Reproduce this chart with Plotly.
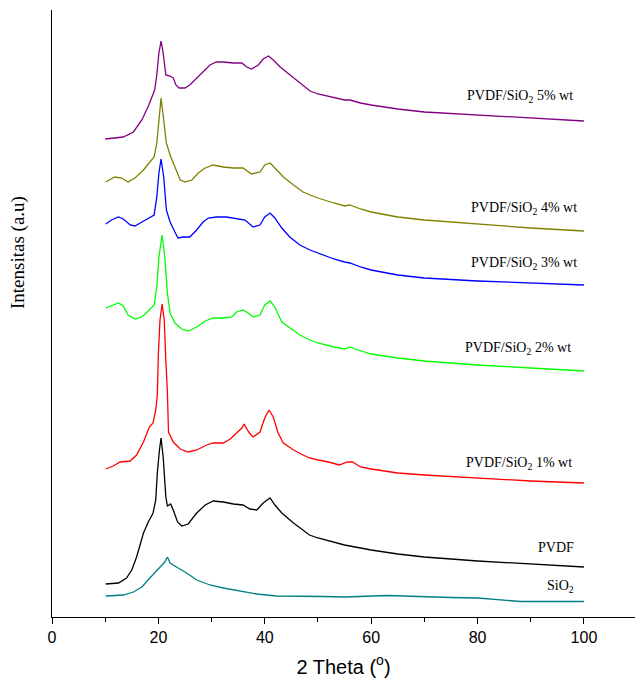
import plotly.graph_objects as go

# XRD patterns (stacked, arbitrary intensity units), 2-theta in degrees
sio2_x = [10.1, 13.4, 15.3, 16.9, 18.4, 19.9, 21.2, 21.7, 22.2, 23.4, 25.3, 27.2, 29.7, 32.2, 35.3,
          38.5, 42.2, 48.4, 51, 55, 60, 63, 66, 70, 75, 80, 84, 88, 95, 100]
sio2_y = [21, 22, 25, 30, 39, 47, 55, 60, 54, 50, 44, 37, 32, 29, 26,
          23, 21, 21, 20.5, 20, 21, 21.5, 21, 20, 19.5, 19, 17, 15.5, 15.5, 15.5]

pvdf_x = [10.1, 12.5, 14, 15, 15.9, 17.2, 18.1, 19, 19.5, 19.8, 20.2, 20.5, 20.9, 21.4, 21.7, 22.3,
          22.8, 23.6, 24.4, 25.6, 27.2, 28.8, 30.3, 32.2, 34.1, 35.9, 37.2, 38.5, 39.7, 41, 41.9,
          43.2, 45.4, 47.2, 48.4, 50, 52, 55, 58, 60, 65, 70, 80, 90, 100]
pvdf_y = [33, 34, 39, 47, 60, 84, 95, 104, 117, 144, 167, 179, 160, 120, 111, 113,
          107, 95, 91, 93, 104, 112, 116, 115, 113, 112, 108, 107, 114, 119, 112,
          104, 94, 87, 82, 79, 76, 72, 69, 67, 63, 60, 56, 53, 50]

wt1_x = [10.1, 11.5, 12.8, 14.7, 15.9, 17.2, 18.3, 19, 19.5, 19.8, 20.0, 20.3, 20.7, 21.1, 21.4, 21.7,
         21.9, 22.8, 24.1, 25.6, 27.2, 29.1, 30.3, 32.2, 33.5, 34.6, 35.7, 36.1, 37.1, 37.8, 39.1,
         40, 40.8, 41.6, 42.5, 43.5, 45.4, 47.2, 48.4, 50, 52, 54, 55.5, 56.5, 58, 60, 65, 70, 80, 90, 100]
wt1_y = [148, 151, 155, 156, 162, 175, 190, 194, 207, 222, 264, 297, 313, 297, 257, 224,
         185, 175, 168, 165, 167, 172, 174, 174, 178, 184, 189, 193, 184, 180, 185,
         199, 207, 200, 184, 174, 167, 162, 159, 157, 155, 152, 155, 155, 150, 148, 144, 142, 139, 136, 134]

wt2_x = [10.1, 11.2, 12.5, 13.4, 14.3, 15.6, 16.9, 18.1, 19.2, 19.7, 20.1, 20.7, 21.2, 21.7, 22.2,
         23.1, 24.4, 25.6, 27.2, 28.8, 30.3, 32.2, 33.8, 34.7, 35.9, 36.9, 37.8, 39.1, 40, 41, 41.9,
         43.2, 44.7, 46.6, 48.5, 50, 53, 55, 56, 57, 60, 65, 70, 80, 90, 100]
wt2_y = [309, 311, 314, 311, 302, 298, 300, 306, 312, 330, 360, 382, 360, 324, 304,
         294, 288, 286, 290, 296, 299, 299, 300, 305, 307, 304, 300, 302, 312, 316, 310,
         295, 289, 282, 277, 274, 270, 268, 270, 268, 263, 259, 256, 252, 249, 246]

wt3_x = [10.1, 11.2, 12.5, 13.4, 14.7, 15.6, 16.9, 18.1, 19.2, 19.7, 20.1, 20.5, 21, 21.5, 22.2,
         23.1, 23.7, 24.7, 25.9, 27.2, 28.4, 29.4, 30.9, 32.8, 34.7, 36.3, 37.8, 39.1, 40, 41, 41.9,
         43.2, 44.7, 46.6, 48.5, 50, 53, 55, 56, 58, 60, 65, 70, 80, 90, 100]
wt3_y = [393, 397, 400, 398, 392, 391, 395, 399, 402, 420, 444, 458, 440, 407, 395,
         385, 379, 380, 380, 387, 395, 399, 400, 400, 398, 397, 390, 392, 400, 404, 399,
         389, 380, 372, 367, 364, 358, 355, 354, 350, 347, 342, 339, 336, 334, 332]

wt4_x = [10.1, 11.8, 13.1, 14.3, 15.6, 17.2, 18.4, 19.2, 19.7, 20.1, 20.5, 21, 21.5, 22.2, 23.1,
         24.1, 25, 26.3, 27.5, 28.8, 30.3, 32.2, 34.1, 35.9, 37.5, 39.1, 40, 41, 41.9, 43.5, 45.4,
         47.2, 48.5, 50, 53, 55, 56, 58, 60, 65, 70, 80, 90, 100]
wt4_y = [435, 440, 439, 435, 439, 447, 455, 460, 474, 497, 519, 497, 474, 462, 450,
         437, 435, 437, 444, 449, 452, 450, 449, 449, 443, 445, 452, 454, 449, 440, 432,
         425, 422, 419, 414, 411, 412, 408, 405, 400, 397, 393, 389, 386]

wt5_x = [10, 13.4, 15.3, 16.9, 18.2, 19.3, 19.7, 20.1, 20.5, 20.9, 21.4, 22.2, 22.8, 23.3, 23.9, 25,
         25.9, 27.2, 28.8, 29.7, 30.9, 32.2, 34.1, 35.7, 36.6, 37.5, 38.8, 39.7, 40.7, 41.6, 42.9,
         44.7, 46.6, 48.5, 50, 53, 55, 56, 58, 60, 65, 70, 80, 90, 100]
wt5_y = [478, 480, 485, 497, 512, 527, 542, 564, 576, 564, 542, 541, 539, 532, 529, 529,
         532, 539, 547, 552, 555, 555, 554, 554, 550, 548, 552, 558, 561, 557, 550,
         542, 534, 526, 523, 519, 517, 517, 514, 512, 508, 505, 502, 499, 496]

series = [
    ("SiO<sub>2</sub>", sio2_x, sio2_y, "#008080", 95.5, 31),
    ("PVDF", pvdf_x, pvdf_y, "#000000", 94.7, 70),
    ("PVDF/SiO<sub>2</sub> 1% wt", wt1_x, wt1_y, "#FF0000", 87.8, 154),
    ("PVDF/SiO<sub>2</sub> 2% wt", wt2_x, wt2_y, "#00FF00", 87.6, 269),
    ("PVDF/SiO<sub>2</sub> 3% wt", wt3_x, wt3_y, "#0000FF", 88.7, 354),
    ("PVDF/SiO<sub>2</sub> 4% wt", wt4_x, wt4_y, "#808000", 88.7, 409),
    ("PVDF/SiO<sub>2</sub> 5% wt", wt5_x, wt5_y, "#800080", 88.0, 521),
]

serif = "Liberation Serif, Times New Roman, serif"
sans = "Liberation Sans, Arial, sans-serif"

fig = go.Figure()
annotations = []
for name, xs, ys, color, lx, ly in series:
    fig.add_trace(go.Scatter(x=xs, y=ys, mode="lines", name=name,
                             line=dict(color=color, width=1.3), showlegend=False))
    annotations.append(dict(x=lx, y=ly, xref="x", yref="y", text=name, showarrow=False,
                            xanchor="center", yanchor="middle",
                            font=dict(family=serif, size=14, color="#000000")))

annotations.append(dict(x=-0.058, y=0.6, xref="paper", yref="paper", text="Intensitas (a.u)",
                        showarrow=False, textangle=-90, xanchor="center", yanchor="middle",
                        font=dict(family=serif, size=19, color="#000000")))

fig.update_layout(
    width=635, height=681,
    margin=dict(l=52, r=0, t=10, b=64),
    plot_bgcolor="white", paper_bgcolor="white",
    annotations=annotations,
    xaxis=dict(
        range=[0, 109.6], dtick=20, tick0=0,
        showline=True, linecolor="black", linewidth=1.3,
        ticks="outside", ticklen=6, tickwidth=1.3, tickcolor="black",
        minor=dict(dtick=10, tick0=0, ticks="outside", ticklen=3.5, tickwidth=1.3, tickcolor="black"),
        showgrid=False, zeroline=False,
        tickfont=dict(family=sans, size=16, color="black"),
        title=dict(text="2 Theta (<sup>o</sup>)", standoff=14,
                   font=dict(family=sans, size=20, color="black")),
    ),
    yaxis=dict(
        range=[0, 607], showline=True, linecolor="black", linewidth=1.3,
        showticklabels=False, ticks="", showgrid=False, zeroline=False,
    ),
)

fig.write_html("out.html")
